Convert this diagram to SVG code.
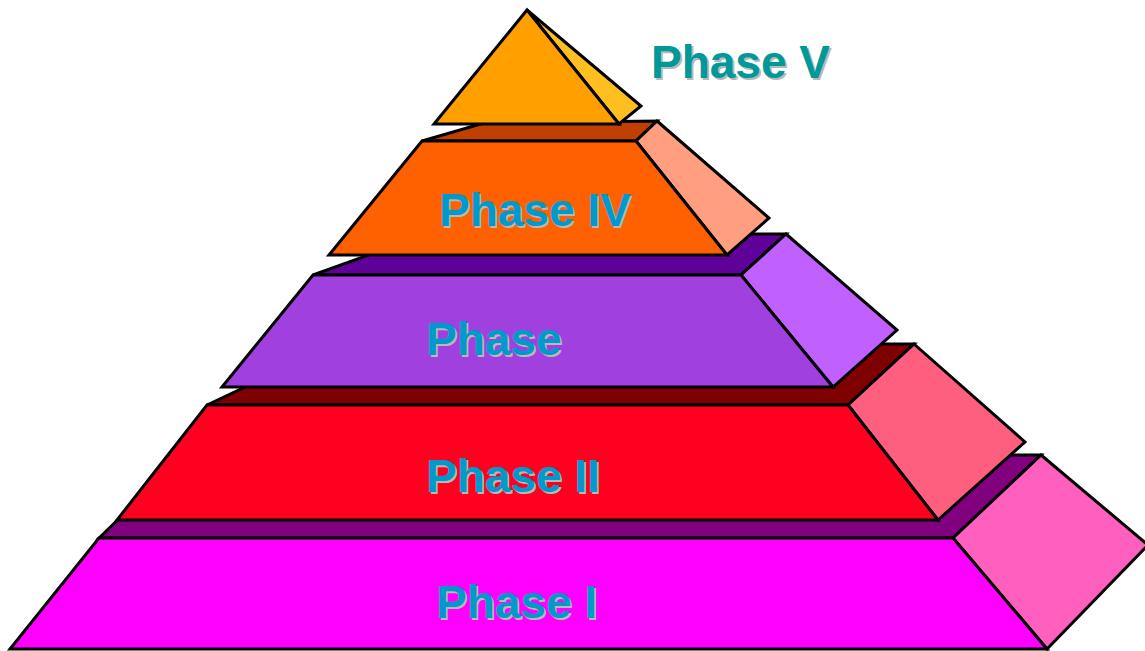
<svg xmlns="http://www.w3.org/2000/svg" width="1145" height="651" viewBox="0 0 1145 651">
<style>
polygon{stroke:#000;stroke-width:3;stroke-linejoin:miter}
text{font-family:"Liberation Sans",Arial,sans-serif;font-weight:bold;font-size:46px}
.sh{fill:#B8B8B8}
.lb{fill:#0099CC}
.lv{fill:#009999}
</style>
<rect width="1145" height="651" fill="#fff"/>
<g id="phase1">
<polygon points="99,538 185,455 1041,455 953,538" fill="#800080"/>
<polygon points="1041,455 1148,545 1047,649 953,538" fill="#FF60BF"/>
<polygon points="99,538 953,538 1047,649 10,649" fill="#FF00FF"/>
<text class="sh" x="438" y="620">Phase I</text>
<text class="lb" x="436" y="618">Phase I</text>
</g>
<g id="phase2">
<polygon points="207,405 336,344 914,344 848,405" fill="#7F0000"/>
<polygon points="914,344 1025,442 938,520 848,405" fill="#FF5F7F"/>
<polygon points="207,405 848,405 938,520 117,520" fill="#FF0020"/>
<text class="sh" x="428" y="494">Phase II</text>
<text class="lb" x="426" y="492">Phase II</text>
</g>
<g id="phase3">
<polygon points="313,275 427,234 786,234 741,275" fill="#5F0099"/>
<polygon points="786,234 897,330 833,387 741,275" fill="#BF60FF"/>
<polygon points="313,275 741,275 833,387 222,387" fill="#9F40DF"/>
<text class="sh" x="428" y="357">Phase</text>
<text class="lb" x="426" y="355">Phase</text>
</g>
<g id="phase4">
<polygon points="422,141 484,123 657,121 636,141" fill="#BF4000"/>
<polygon points="657,121 769,218 727,255 636,141" fill="#FF9F7F"/>
<polygon points="422,141 636,141 727,255 329,255" fill="#FF6000"/>
<text class="sh" x="441" y="228">Phase IV</text>
<text class="lb" x="439" y="226">Phase IV</text>
</g>
<g id="phase5">
<polygon points="527,10 641,106 619,124" fill="#FFBF20"/>
<polygon points="527,10 619,124 434,124" fill="#FFA000"/>
<text class="sh" x="653" y="80">Phase V</text>
<text class="lv" x="651" y="78">Phase V</text>
</g>
</svg>
